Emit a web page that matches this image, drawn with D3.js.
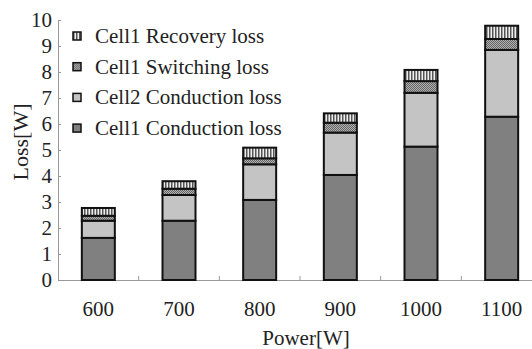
<html>
<head>
    <script src="https://cdn.jsdelivr.net/npm/d3@7"></script>
    <style>
        body { margin: 0; background: #fff; }
        text { font-family: 'Liberation Serif', 'Times New Roman', serif; fill: #222; }
    </style>
</head>
<body>
    <svg id="chart" width="532" height="349"></svg>

    <script>

    // data
    var powers = ["600", "700", "800", "900", "1000", "1100"];
    var cell1Conduction = [1.62, 2.28, 3.08, 4.04, 5.13, 6.28];
    var cell2Conduction = [0.66, 0.99, 1.37, 1.63, 2.07, 2.57];
    var cell1Switching  = [0.19, 0.24, 0.23, 0.38, 0.45, 0.42];
    var cell1Recovery   = [0.30, 0.29, 0.41, 0.36, 0.43, 0.51];
    var yTicks = [0, 1, 2, 3, 4, 5, 6, 7, 8, 9, 10];

    var keys = ["c1cond", "c2cond", "c1sw", "c1rec"];
    var labels = {
        c1rec: "Cell1 Recovery loss",
        c1sw: "Cell1 Switching loss",
        c2cond: "Cell2 Conduction loss",
        c1cond: "Cell1 Conduction loss"
    };
    var fills = {
        c1cond: "#808080",
        c2cond: "#c4c4c4",
        c1sw: "url(#checks)",
        c1rec: "url(#stripes)"
    };

    var rows = powers.map(function (p, i) {
        return { power: p, c1cond: cell1Conduction[i], c2cond: cell2Conduction[i],
                 c1sw: cell1Switching[i], c1rec: cell1Recovery[i] };
    });

    var svg = d3.select("#chart");
    var plotLeft = 58, plotRight = 542, plotTop = 20, plotBottom = 280;

    // patterns
    var defs = svg.append("defs");
    var st = defs.append("pattern").attr("id", "stripes")
        .attr("patternUnits", "userSpaceOnUse").attr("width", 3).attr("height", 3);
    st.append("rect").attr("width", 3).attr("height", 3).attr("fill", "#eeeeee");
    st.append("rect").attr("width", 1.5).attr("height", 3).attr("fill", "#555");
    var ck = defs.append("pattern").attr("id", "checks")
        .attr("patternUnits", "userSpaceOnUse").attr("width", 2).attr("height", 2);
    ck.append("rect").attr("width", 2).attr("height", 2).attr("fill", "#b0b0b0");
    ck.append("rect").attr("width", 1).attr("height", 1).attr("fill", "#666");
    ck.append("rect").attr("x", 1).attr("y", 1).attr("width", 1).attr("height", 1).attr("fill", "#666");

    var x = d3.scaleBand().domain(powers).range([plotLeft, plotRight]).paddingInner(0).paddingOuter(0);
    var y = d3.scaleLinear().domain([0, 10]).range([plotBottom, plotTop]);

    var stacked = d3.stack().keys(keys)(rows);

    // axes
    var yAxis = svg.append("g").attr("transform", "translate(" + plotLeft + ",0)")
        .call(d3.axisRight(y).tickValues(yTicks).tickSize(3).tickSizeOuter(0).tickFormat(""));
    yAxis.selectAll("path, line").attr("stroke", "#999");

    svg.selectAll("text.ytick").data(yTicks).enter().append("text")
        .attr("class", "ytick")
        .attr("x", plotLeft - 6)
        .attr("y", function (d) { return y(d) + 7; })
        .attr("text-anchor", "end")
        .attr("font-size", 21)
        .text(function (d) { return d; });

    var xAxis = svg.append("g").attr("transform", "translate(0," + plotBottom + ")")
        .call(d3.axisTop(x).tickSize(0).tickFormat(""));
    xAxis.select("path").attr("stroke", "#999");
    // separators between categories
    svg.selectAll("line.sep").data(powers.slice(1)).enter().append("line")
        .attr("class", "sep")
        .attr("x1", function (d) { return x(d); })
        .attr("x2", function (d) { return x(d); })
        .attr("y1", plotBottom).attr("y2", plotBottom - 4)
        .attr("stroke", "#999");

    svg.selectAll("text.xtick").data(powers).enter().append("text")
        .attr("class", "xtick")
        .attr("x", function (d) { return x(d) + x.bandwidth() / 2; })
        .attr("y", 316)
        .attr("text-anchor", "middle")
        .attr("font-size", 21)
        .text(function (d) { return d; });

    // bars
    var barW = 33;
    stacked.forEach(function (layer) {
        svg.selectAll("rect." + layer.key).data(layer).enter().append("rect")
            .attr("class", layer.key)
            .attr("x", function (d) { return x(d.data.power) + x.bandwidth() / 2 - barW / 2; })
            .attr("y", function (d) { return y(d[1]); })
            .attr("width", barW)
            .attr("height", function (d) { return y(d[0]) - y(d[1]); })
            .attr("fill", fills[layer.key])
            .attr("stroke", "#111")
            .attr("stroke-width", 2);
    });

    // axis titles
    svg.append("text")
        .attr("x", 306).attr("y", 345)
        .attr("text-anchor", "middle")
        .attr("font-size", 21)
        .text("Power[W]");
    svg.append("text")
        .attr("transform", "translate(28,142) rotate(-90)")
        .attr("text-anchor", "middle")
        .attr("font-size", 22)
        .text("Loss[W]");

    // legend
    var legendKeys = ["c1rec", "c1sw", "c2cond", "c1cond"];
    var lg = svg.selectAll("g.legend").data(legendKeys).enter().append("g")
        .attr("class", "legend")
        .attr("transform", function (d, i) { return "translate(73," + (32 + i * 30.7) + ")"; });
    lg.append("rect")
        .attr("width", 8).attr("height", 8)
        .attr("fill", function (d) { return fills[d]; })
        .attr("stroke", "#111").attr("stroke-width", 1.5);
    lg.append("text")
        .attr("x", 22).attr("y", 11)
        .attr("font-size", 21)
        .text(function (d) { return labels[d]; });

    </script>
</body>
</html>
